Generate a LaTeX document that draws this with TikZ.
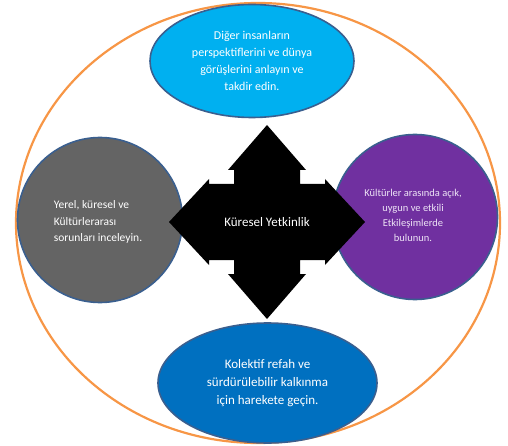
\documentclass[tikz,border=0pt]{standalone}
\usepackage{fontspec}
\setmainfont{Carlito}
\usepackage{xcolor}
\usepackage{tikz}
\usetikzlibrary{shapes.geometric}

\definecolor{ringorange}{HTML}{F79646}
\definecolor{rimblue}{HTML}{3A5F8F}
\definecolor{skyfill}{HTML}{00B0F0}
\definecolor{greyfill}{HTML}{646464}
\definecolor{violetfill}{HTML}{7030A0}
\definecolor{navyfill}{HTML}{0070C0}
\definecolor{lavtext}{HTML}{EEE4F6}

\begin{document}
\begin{tikzpicture}[x=1pt,y=-1pt,
    blob/.style={ellipse,draw=rimblue,line width=1.6pt,inner sep=0pt},
    disc/.style={circle,draw=rimblue,line width=1.6pt,inner sep=0pt,minimum size=165pt}]
    \useasboundingbox (0,0) rectangle (508,446);
    % outer ring
    \draw [ringorange,line width=2.2pt] (258,223) ellipse [x radius=242,y radius=220];
    \node [blob,fill=skyfill,minimum width=204pt,minimum height=113pt,text=white,align=center,
      font=\fontsize{12}{17}\selectfont] (see) at (252,61)
      {Diğer insanların\\perspektiflerini ve dünya\\görüşlerini anlayın ve\\takdir edin.};
    \node [disc,fill=greyfill] (probe) at (100,220) {};
    \node [text=white,align=left,font=\fontsize{11.5}{16.5}\selectfont] (probetext) at (98,222)
      {Yerel, küresel ve\\Kültürlerarası\\sorunları inceleyin.};
    \node [disc,fill=violetfill] (meet) at (415,217) {};
    \node [text=lavtext,align=center,font=\fontsize{10.5}{15}\selectfont] (meettext) at (413,215)
      {Kültürler arasında açık,\\uygun ve etkili\\Etkileşimlerde\\bulunun.};
    \node [blob,fill=navyfill,minimum width=219pt,minimum height=120pt,text=white,align=center,
      font=\fontsize{13}{18}\selectfont] (act) at (267.5,383)
      {Kolektif refah ve\\sürdürülebilir kalkınma\\için harekete geçin.};
    % four-way arrow
    \fill [black,shift={(267,222)}] (0,-97) -- (39,-52) -- (33,-52) -- (33,-38) -- (58,-38)
      -- (58,-43) -- (98,0) -- (58,43) -- (58,38) -- (33,38) -- (33,52) -- (39,52)
      -- (0,97) -- (-39,52) -- (-33,52) -- (-33,38) -- (-58,38) -- (-58,43) -- (-98,0)
      -- (-58,-43) -- (-58,-38) -- (-33,-38) -- (-33,-52) -- (-39,-52) -- cycle;
    \node [text=white,font=\fontsize{13}{15}\selectfont] (core) at (267,222) {Küresel Yetkinlik};
\end{tikzpicture}
\end{document}
